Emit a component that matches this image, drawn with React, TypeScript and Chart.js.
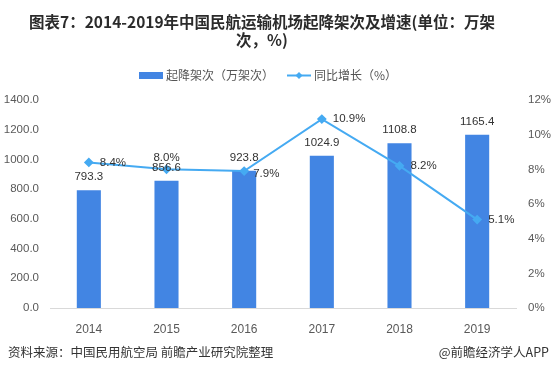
import React, { useEffect, useRef } from 'react';
import { Chart, registerables } from 'chart.js';
Chart.register(...registerables);

const years = ['2014', '2015', '2016', '2017', '2018', '2019'];
const movements = [793.3, 856.6, 923.8, 1024.9, 1108.8, 1165.4];
const growth = [8.4, 8.0, 7.9, 10.9, 8.2, 5.1];
const barLabel = '起降架次（万架次）';
const lineLabel = '同比增长（%）';
const titleLines = ['图表7：2014-2019年中国民航运输机场起降架次及增速(单位：万架', '次，%)'];
const sourceText = '资料来源：中国民用航空局 前瞻产业研究院整理';
const brandText = '@前瞻经济学人APP';

const BAR_COLOR = '#4285e3';
const LINE_COLOR = '#45aaf2';
const CJK = '"Noto Sans CJK SC", "Noto Sans", sans-serif';
const NUM = '"Liberation Sans", Arial, sans-serif';

const decorPlugin = {
  id: 'decor',
  afterDatasetsDraw(chart: any) {
    const ctx = chart.ctx;
    ctx.save();
    const barMeta = chart.getDatasetMeta(0);
    ctx.font = `11.5px ${NUM}`;
    ctx.fillStyle = '#333333';
    ctx.textAlign = 'center';
    ctx.textBaseline = 'middle';
    barMeta.data.forEach((el: any, i: number) => {
      ctx.fillText(movements[i].toFixed(1), el.x, el.y - 13);
    });
    const lineMeta = chart.getDatasetMeta(1);
    lineMeta.data.forEach((el: any, i: number) => {
      const txt = growth[i].toFixed(1) + '%';
      if (i === 1) {
        ctx.textAlign = 'center';
        ctx.fillText(txt, el.x, el.y - 12);
      } else if (i === 2) {
        ctx.textAlign = 'left';
        ctx.fillText(txt, el.x + 9, el.y + 3);
      } else {
        ctx.textAlign = 'left';
        ctx.fillText(txt, el.x + 11, el.y);
      }
    });
    ctx.restore();
  },
  afterDraw(chart: any) {
    const ctx = chart.ctx;
    ctx.save();
    ctx.fillStyle = '#2b2b2b';
    ctx.font = `bold 15.5px ${CJK}`;
    ctx.textAlign = 'center';
    ctx.textBaseline = 'middle';
    ctx.fillText(titleLines[0], 262, 22);
    ctx.fillText(titleLines[1], 262, 40);
    ctx.font = `12px ${CJK}`;
    ctx.fillStyle = BAR_COLOR;
    ctx.fillRect(139, 72, 24, 7);
    ctx.fillStyle = '#555555';
    ctx.textAlign = 'left';
    ctx.fillText(barLabel, 166, 75.5);
    ctx.strokeStyle = LINE_COLOR;
    ctx.lineWidth = 2;
    ctx.beginPath();
    ctx.moveTo(287, 75.5);
    ctx.lineTo(311, 75.5);
    ctx.stroke();
    ctx.fillStyle = LINE_COLOR;
    ctx.beginPath();
    ctx.moveTo(299, 72);
    ctx.lineTo(302.5, 75.5);
    ctx.lineTo(299, 79);
    ctx.lineTo(295.5, 75.5);
    ctx.closePath();
    ctx.fill();
    ctx.fillStyle = '#555555';
    ctx.fillText(lineLabel, 314, 75.5);
    ctx.font = `12.5px ${CJK}`;
    ctx.fillStyle = '#333333';
    ctx.textAlign = 'left';
    ctx.fillText(sourceText, 8, 352);
    ctx.textAlign = 'right';
    ctx.fillText(brandText, 549, 352);
    ctx.restore();
  },
};

export default function App() {
  const ref = useRef<HTMLCanvasElement | null>(null);
  useEffect(() => {
    document.body.style.margin = '0';
    const canvas = ref.current;
    if (!canvas) return;
    const chart = new Chart(canvas, {
      type: 'bar',
      data: {
        labels: years,
        datasets: [
          {
            type: 'bar',
            label: barLabel,
            data: movements,
            backgroundColor: BAR_COLOR,
            yAxisID: 'y',
            categoryPercentage: 1,
            barPercentage: 0.31,
            order: 2,
          },
          {
            type: 'line',
            label: lineLabel,
            data: growth,
            borderColor: LINE_COLOR,
            backgroundColor: LINE_COLOR,
            borderWidth: 2,
            pointStyle: 'rectRot',
            pointRadius: 3.5,
            pointBackgroundColor: LINE_COLOR,
            pointBorderColor: LINE_COLOR,
            tension: 0,
            yAxisID: 'y1',
            order: 1,
          },
        ] as any,
      },
      options: {
        responsive: false,
        animation: false,
        devicePixelRatio: 1,
        layout: { padding: { top: 100, bottom: 35, left: 0, right: 0 } },
        plugins: {
          legend: { display: false },
          title: { display: false },
          tooltip: { enabled: false },
        },
        scales: {
          x: {
            grid: { display: false },
            border: { display: true, color: '#d9d9d9' },
            ticks: { color: '#595959', font: { size: 12, family: NUM }, padding: 6 },
            afterFit: (s: any) => { s.height = 30; },
          },
          y: {
            position: 'left',
            min: 0,
            max: 1400,
            grid: { display: false, drawTicks: false },
            border: { display: false },
            ticks: {
              stepSize: 200,
              color: '#595959',
              font: { size: 11.5, family: NUM },
              padding: 11,
              callback: (v: any) => Number(v).toFixed(1),
            },
            afterFit: (s: any) => { s.width = 50; },
          },
          y1: {
            position: 'right',
            min: 0,
            max: 12,
            grid: { display: false, drawTicks: false },
            border: { display: false },
            ticks: {
              stepSize: 2,
              color: '#595959',
              font: { size: 11.5, family: NUM },
              padding: 12,
              callback: (v: any) => `${v}%`,
            },
            afterFit: (s: any) => { s.width = 35; },
          },
        },
      } as any,
      plugins: [decorPlugin],
    });
    return () => chart.destroy();
  }, []);
  return (
    <div style={{ position: 'absolute', left: 0, top: 0, width: 551, height: 373, background: '#fff' }}>
      <canvas ref={ref} width={551} height={373} style={{ width: 551, height: 373, display: 'block' }} />
    </div>
  );
}
